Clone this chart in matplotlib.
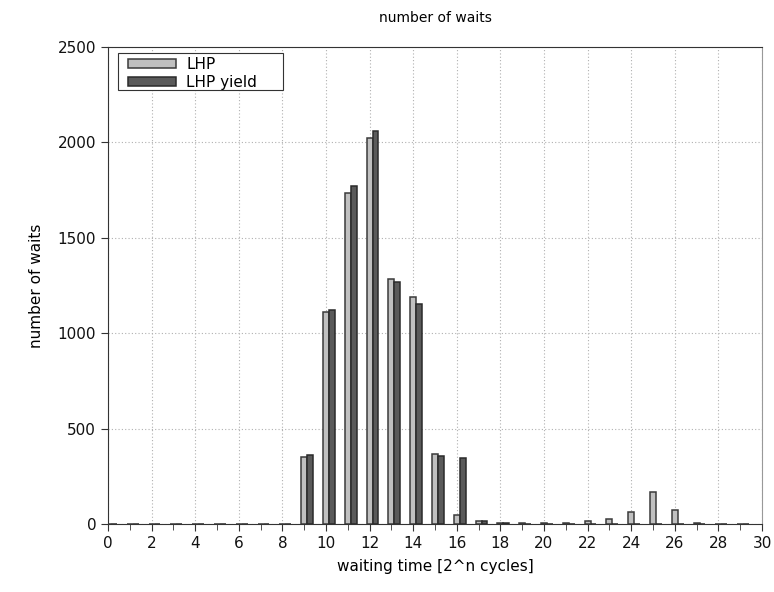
import matplotlib.pyplot as plt
from matplotlib.patches import Rectangle
import numpy as np

# waiting time exponent n (bucket 2^n cycles)
n = np.arange(0, 30)
lhp = [2, 2, 2, 2, 2, 2, 2, 2, 2, 350, 1113, 1736, 2023, 1284, 1188, 367, 47, 16, 7, 7,
       7, 7, 14, 28, 63, 168, 73, 4, 1, 1]
lhp_yield = [1, 1, 1, 1, 1, 1, 1, 1, 1, 363, 1120, 1771, 2058, 1268, 1151, 355, 344, 16, 3, 1,
             1, 1, 1, 1, 1, 1, 1, 1, 1, 1]

fig = plt.figure(figsize=(7.74, 5.92), dpi=100)
ax = fig.add_axes([0.1395, 0.1149, 0.845, 0.8057])

w = 0.27
ax.bar(n, lhp, width=w, color='#c0c0c0', edgecolor='#3a3a3a', linewidth=1.1, label='LHP', zorder=3)
ax.bar(n + w, lhp_yield, width=w, color='#5a5a5a', edgecolor='#2a2a2a', linewidth=1.1,
       label='LHP yield', zorder=3)

ax.set_xlim(0, 30)
ax.set_ylim(0, 2500)
ax.set_xticks(np.arange(0, 31, 2))
ax.set_xticks(np.arange(1, 30, 2), minor=True)
ax.set_yticks(np.arange(0, 2501, 500))
ax.tick_params(which='both', direction='out', labelsize=11, color='#333333', labelcolor='#111111')
ax.tick_params(which='major', length=5)
ax.tick_params(which='minor', length=4)
ax.grid(True, which='major', linestyle=(0, (1, 2)), color='#b0b0b0', linewidth=0.8, zorder=0)

for side in ['left', 'bottom', 'top']:
    ax.spines[side].set_color('#333333')
ax.spines['right'].set_color('#999999')

ax.set_title('number of waits', fontsize=10, pad=18)
ax.set_xlabel('waiting time [2^n cycles]', fontsize=11, labelpad=6)
ax.set_ylabel('number of waits', fontsize=11, labelpad=10)

# legend box drawn separately (gnuplot-style wide key)
ax.add_patch(Rectangle((0.0153, 0.910), 0.2523, 0.0774, transform=ax.transAxes,
                       facecolor='white', edgecolor='#333333', linewidth=0.8, zorder=4))
leg = ax.legend(loc='upper left', bbox_to_anchor=(0.030, 0.980), fontsize=11, handlelength=3.2,
                handleheight=0.55, frameon=False, borderpad=0.0, labelspacing=0.2,
                handletextpad=0.65, borderaxespad=0.0)
leg.set_zorder(5)

fig.savefig('out.png', dpi=100)
